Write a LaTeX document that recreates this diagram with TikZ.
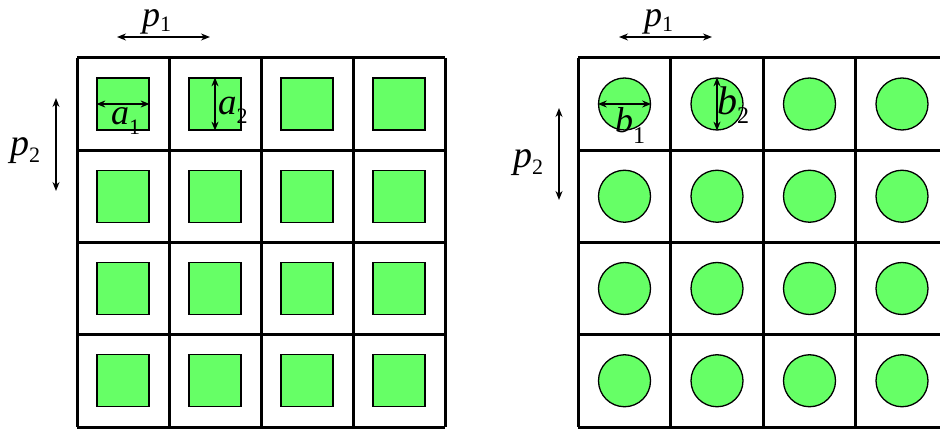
\documentclass[tikz,border=0pt]{standalone}
\usepackage{fontspec}
\setmainfont{Liberation Serif}
\usetikzlibrary{arrows.meta}
\definecolor{cellgreen}{HTML}{66FF66}
% #1 main size, #2 sub size, #3 lowering, #4 letter, #5 index
\newcommand{\lblsub}[5]{{\fontsize{#1}{#1}\selectfont\itshape #4}\raisebox{-#3pt}{\fontsize{#2}{#2}\selectfont #5}}
\begin{document}
\begin{tikzpicture}[x=1pt,y=-1pt,
  gridline/.style={line width=3pt},
  sqbox/.style={draw, line width=1.3pt, fill=cellgreen, minimum size=52pt, inner sep=0pt, rectangle},
  circbox/.style={draw, line width=1.3pt, fill=cellgreen, minimum size=52pt, inner sep=0pt, circle},
  dimarrow/.style={line width=1.4pt, {Stealth[length=9pt,width=7pt]}-{Stealth[length=9pt,width=7pt]}},
  lbl/.style={inner sep=0pt, anchor=base west}]
\useasboundingbox (0,0) rectangle (940,430);
% left grid
\foreach \i in {0,...,4} {
  \draw[gridline] ({77+92*\i},58) -- ({77+92*\i},427);
  \draw[gridline] (77,{58+92.25*\i}) -- (445,{58+92.25*\i});
}
\foreach \i in {0,...,3} \foreach \j in {0,...,3} {
  \node[sqbox] (sq-\i-\j) at ({123+92*\i},{104+92.25*\j}) {};
}
% right grid
\begin{scope}
\clip (0,0) rectangle (940,430);
\foreach \i in {0,...,4} {
  \draw[gridline] ({578+92.5*\i},58) -- ({578+92.5*\i},427);
}
\foreach \j in {0,...,4} {
  \draw[gridline] (578,{58+92.25*\j}) -- (960,{58+92.25*\j});
}
\foreach \i in {0,...,3} \foreach \j in {0,...,3} {
  \node[circbox] (ci-\i-\j) at ({624.5+92.5*\i},{104+92.25*\j}) {};
}
\end{scope}
% left dimensions
\coordinate (lp1a) at (117,37); \coordinate (lp1b) at (210,37);
\draw[dimarrow] (lp1a) -- (lp1b);
\coordinate (lp2a) at (56,98); \coordinate (lp2b) at (56,191);
\draw[dimarrow] (lp2a) -- (lp2b);
\draw[dimarrow] (sq-0-0.west) -- (sq-0-0.east);
\draw[dimarrow] (sq-1-0.north) -- (sq-1-0.south);
\node[lbl] (lp1) at (142,27) {\lblsub{36}{22}{5}{p}{1}};
\node[lbl] (lp2) at (10,156) {\lblsub{38}{22}{7}{p}{2}};
\node[lbl] (la1) at (111,125) {\lblsub{36}{22}{10}{a}{1}};
\node[lbl] (la2) at (218,115) {\lblsub{37}{22}{9}{a}{2}};
% right dimensions
\coordinate (rp1a) at (619,37); \coordinate (rp1b) at (712,37);
\draw[dimarrow] (rp1a) -- (rp1b);
\coordinate (rp2a) at (559,108); \coordinate (rp2b) at (559,200);
\draw[dimarrow] (rp2a) -- (rp2b);
\draw[dimarrow] (ci-0-0.west) -- (ci-0-0.east);
\draw[dimarrow] (ci-1-0.north) -- (ci-1-0.south);
\node[lbl] (rp1) at (644,27) {\lblsub{36}{22}{5}{p}{1}};
\node[lbl] (rp2) at (513,168) {\lblsub{38}{22}{7}{p}{2}};
\node[lbl] (rb1) at (615,133) {\lblsub{36}{24}{11}{b}{1}};
\node[lbl] (rb2) at (717,115) {\lblsub{40}{24}{9}{b}{2}};
\end{tikzpicture}
\end{document}
